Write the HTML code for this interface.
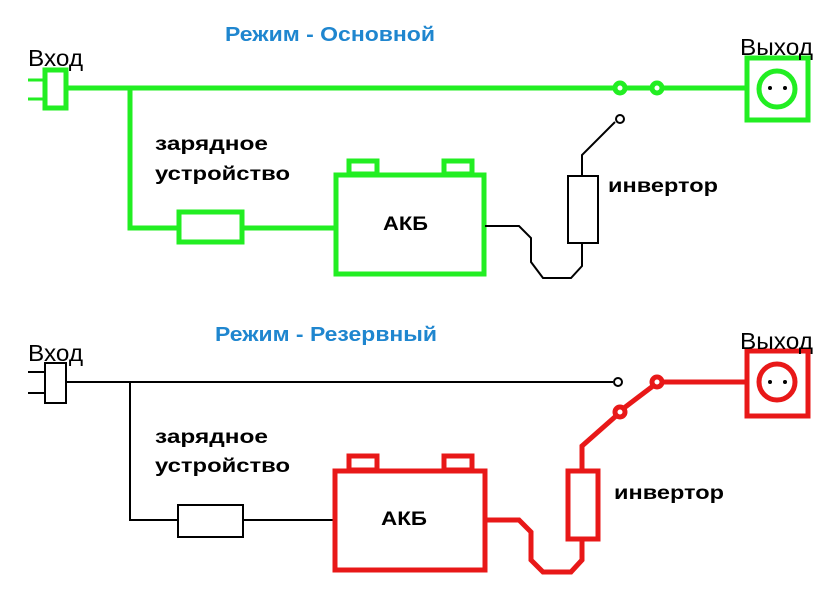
<!DOCTYPE html>
<html><head><meta charset="utf-8"><style>
body{margin:0;background:#fff}
svg{display:block}
text{font-family:"Liberation Sans",sans-serif}
.b{font-weight:bold;font-size:19px}
.t{font-size:23px}
.h{font-weight:bold;font-size:20px;fill:#1f86cf}
</style></head><body>
<svg width="836" height="593" viewBox="0 0 836 593" xmlns="http://www.w3.org/2000/svg">
<!-- TOP -->
<g fill="none" stroke="#22ee22" stroke-width="5">
<line x1="28" y1="80" x2="43" y2="80" stroke-width="3"/>
<line x1="28" y1="99" x2="43" y2="99" stroke-width="3"/>
<rect x="45" y="70" width="21" height="38"/>
<line x1="66" y1="88" x2="615" y2="88"/>
<line x1="625" y1="88" x2="652" y2="88"/>
<line x1="662" y1="88" x2="745" y2="88"/>
<circle cx="620" cy="88" r="5"/>
<circle cx="657" cy="88" r="5"/>
<rect x="747" y="58" width="61" height="62"/>
<circle cx="777" cy="89" r="18"/>
<polyline points="130,88 130,228 178,228"/>
<rect x="179" y="212" width="63" height="30"/>
<line x1="242" y1="228" x2="335" y2="228"/>
<rect x="336" y="175" width="148" height="99"/>
<rect x="349" y="161" width="28" height="13"/>
<rect x="444" y="161" width="28" height="13"/>
</g>
<circle cx="770" cy="88" r="2" fill="#000"/><circle cx="785" cy="88" r="2" fill="#000"/>
<g fill="none" stroke="#000" stroke-width="2">
<polyline points="485,226 519,226 531,238 531,262 543,278 571,278 582,266 582,243"/>
<rect x="568" y="176" width="30" height="67"/>
<polyline points="582,176 582,155 615,122"/>
<circle cx="620" cy="119" r="4"/>
</g>
<text x="28" y="66" class="t" textLength="55" lengthAdjust="spacingAndGlyphs">Вход</text>
<text x="740" y="55" class="t" textLength="73" lengthAdjust="spacingAndGlyphs">Выход</text>
<text x="225" y="41" class="h" textLength="210" lengthAdjust="spacingAndGlyphs">Режим - Основной</text>
<text x="155" y="150" class="b" textLength="113" lengthAdjust="spacingAndGlyphs">зарядное</text>
<text x="155" y="180" class="b" textLength="135" lengthAdjust="spacingAndGlyphs">устройство</text>
<text x="383" y="230" class="b" textLength="45" lengthAdjust="spacingAndGlyphs">АКБ</text>
<text x="608" y="192" class="b" textLength="110" lengthAdjust="spacingAndGlyphs">инвертор</text>
<!-- BOTTOM -->
<g fill="none" stroke="#000" stroke-width="2">
<line x1="28" y1="372" x2="45" y2="372"/>
<line x1="28" y1="393" x2="45" y2="393"/>
<rect x="45" y="363" width="21" height="40"/>
<line x1="66" y1="382" x2="613" y2="382"/>
<circle cx="618" cy="382" r="4"/>
<polyline points="130,382 130,520 178,520"/>
<rect x="178" y="505" width="65" height="32"/>
<line x1="243" y1="520" x2="333" y2="520"/>
</g>
<g fill="none" stroke="#e81818" stroke-width="5">
<line x1="662" y1="382" x2="745" y2="382"/>
<circle cx="657" cy="382" r="5"/>
<circle cx="620" cy="412" r="5"/>
<line x1="653" y1="386" x2="624" y2="408"/>
<polyline points="616,416 582,446 582,470"/>
<rect x="568" y="471" width="30" height="68"/>
<polyline points="485,520 519,520 531,532 531,560 543,572 571,572 582,560 582,539"/>
<rect x="335" y="471" width="150" height="99"/>
<rect x="349" y="456" width="28" height="14"/>
<rect x="444" y="456" width="28" height="14"/>
<rect x="747" y="351" width="61" height="65"/>
<circle cx="777" cy="382" r="18"/>
</g>
<circle cx="770" cy="382" r="2" fill="#000"/><circle cx="785" cy="382" r="2" fill="#000"/>
<text x="28" y="361" class="t" textLength="55" lengthAdjust="spacingAndGlyphs">Вход</text>
<text x="740" y="349" class="t" textLength="73" lengthAdjust="spacingAndGlyphs">Выход</text>
<text x="215" y="341" class="h" textLength="222" lengthAdjust="spacingAndGlyphs">Режим - Резервный</text>
<text x="155" y="443" class="b" textLength="113" lengthAdjust="spacingAndGlyphs">зарядное</text>
<text x="155" y="472" class="b" textLength="135" lengthAdjust="spacingAndGlyphs">устройство</text>
<text x="381" y="525" class="b" textLength="46" lengthAdjust="spacingAndGlyphs">АКБ</text>
<text x="614" y="499" class="b" textLength="110" lengthAdjust="spacingAndGlyphs">инвертор</text>
</svg>
</body></html>
